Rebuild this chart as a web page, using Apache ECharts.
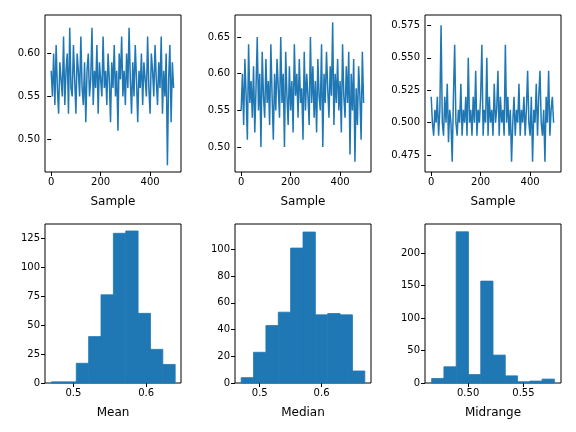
<!DOCTYPE html>
<html>
<head>
<meta charset="utf-8">
<script src="https://cdn.jsdelivr.net/npm/echarts@6/dist/echarts.min.js"></script>
<style>html,body{margin:0;padding:0;background:#fff}#chart{width:576px;height:432px}</style>
</head>
<body>
<div id="chart"></div>
<script>
// sample traces (every 5th sample)
const sampleStep = 5;
const meanTrace = [
  0.58,0.55,0.60,0.54,0.61,0.56,0.53,0.59,0.57,0.55,
  0.62,0.54,0.58,0.60,0.53,0.63,0.56,0.55,0.61,0.57,
  0.53,0.60,0.58,0.55,0.62,0.56,0.54,0.59,0.52,0.58,
  0.60,0.55,0.57,0.63,0.54,0.58,0.56,0.61,0.53,0.59,
  0.57,0.55,0.62,0.56,0.58,0.54,0.60,0.57,0.52,0.59,
  0.56,0.61,0.55,0.58,0.51,0.60,0.57,0.62,0.55,0.58,
  0.54,0.60,0.56,0.63,0.57,0.53,0.59,0.55,0.61,0.57,
  0.52,0.58,0.56,0.60,0.54,0.59,0.57,0.55,0.62,0.56,
  0.53,0.60,0.58,0.55,0.61,0.57,0.54,0.59,0.56,0.62,
  0.53,0.58,0.55,0.60,0.47,0.57,0.61,0.52,0.59,0.56
];
const medianTrace = [
  0.55,0.60,0.53,0.62,0.57,0.51,0.64,0.56,0.59,0.54,
  0.61,0.52,0.58,0.65,0.55,0.60,0.50,0.63,0.57,0.54,
  0.62,0.56,0.59,0.53,0.64,0.57,0.51,0.60,0.55,0.62,
  0.58,0.54,0.65,0.56,0.60,0.50,0.63,0.57,0.53,0.61,
  0.55,0.59,0.52,0.64,0.57,0.60,0.54,0.62,0.56,0.58,
  0.51,0.63,0.55,0.60,0.57,0.53,0.65,0.56,0.61,0.54,
  0.59,0.52,0.62,0.57,0.55,0.64,0.50,0.60,0.56,0.63,
  0.58,0.54,0.61,0.57,0.67,0.53,0.60,0.56,0.62,0.55,
  0.59,0.52,0.64,0.57,0.54,0.61,0.56,0.63,0.49,0.60,
  0.55,0.62,0.48,0.58,0.53,0.61,0.57,0.51,0.63,0.56
];
const midrangeTrace = [
  0.52,0.50,0.49,0.51,0.50,0.52,0.49,0.51,0.575,0.50,
  0.49,0.52,0.50,0.53,0.485,0.51,0.50,0.47,0.52,0.56,
  0.50,0.49,0.51,0.50,0.53,0.49,0.51,0.50,0.52,0.49,
  0.55,0.50,0.51,0.49,0.52,0.50,0.54,0.49,0.51,0.50,
  0.52,0.56,0.49,0.51,0.50,0.55,0.49,0.52,0.50,0.51,
  0.49,0.53,0.50,0.51,0.54,0.49,0.52,0.50,0.51,0.49,
  0.56,0.50,0.52,0.49,0.51,0.47,0.50,0.52,0.49,0.51,
  0.50,0.53,0.49,0.51,0.50,0.52,0.49,0.51,0.54,0.50,
  0.49,0.52,0.47,0.51,0.50,0.53,0.49,0.52,0.54,0.50,
  0.49,0.51,0.47,0.52,0.50,0.54,0.49,0.51,0.52,0.50
];

// histograms: first edge, bin width, counts
const meanBins = {start: 0.470, width: 0.017, counts: [1,1,17,40,76,129,131,60,29,16]};
const medianBins = {start: 0.470, width: 0.020, counts: [4,23,43,53,101,113,51,52,51,9]};
const midrangeBins = {start: 0.467, width: 0.0111, counts: [7,25,233,13,157,43,11,2,3,6]};

const sampleTicks = [0, 200, 400];
const traceYTicks = [[0.50,0.55,0.60],[0.50,0.55,0.60,0.65],[0.475,0.500,0.525,0.550,0.575]];
const histXTicks = [[0.5,0.6],[0.5,0.6],[0.50,0.55]];
const histYTicks = [[0,25,50,75,100,125],[0,20,40,60,80,100],[0,50,100,150,200]];

const blue = '#1f77b4';
const cols = [45, 235, 425];
const font = {color: '#000', fontSize: 10, fontFamily: 'DejaVu Sans'};

const grids = [], xAxes = [], yAxes = [], series = [];

function axisCommon(ticks, fmt) {
  return {
    axisLine: {show: false},
    axisTick: {show: true, customValues: ticks, length: 4, lineStyle: {color: '#000'}},
    axisLabel: Object.assign({customValues: ticks, formatter: fmt, margin: 5}, font),
    splitLine: {show: false}
  };
}

function addGrid(left, top) {
  grids.push({left: left, top: top, width: 136, height: top < 100 ? 157 : 159,
    show: true, borderColor: '#000', borderWidth: 1});
  return grids.length - 1;
}

function fmtDec(d) { return v => v.toFixed(d); }

const traces = [meanTrace, medianTrace, midrangeTrace];
const traceY = [[0.462, 0.645], [0.466, 0.68], [0.462, 0.583]];
const traceDec = [2, 2, 3];
traces.forEach((tr, i) => {
  const g = addGrid(cols[i], 15);
  xAxes.push(Object.assign({type: 'value', gridIndex: g, min: -25, max: 525,
    name: 'Sample', nameLocation: 'middle', nameGap: 24,
    nameTextStyle: {color: '#000', fontSize: 12, fontFamily: 'DejaVu Sans'}},
    axisCommon(sampleTicks, v => String(v))));
  yAxes.push(Object.assign({type: 'value', gridIndex: g, min: traceY[i][0], max: traceY[i][1]},
    axisCommon(traceYTicks[i], fmtDec(traceDec[i]))));
  series.push({type: 'line', xAxisIndex: g, yAxisIndex: g, showSymbol: false,
    lineStyle: {color: blue, width: 1.5},
    data: tr.map((v, k) => [k * sampleStep, v])});
});

const hists = [meanBins, medianBins, midrangeBins];
const histNames = ['Mean', 'Median', 'Midrange'];
const histX = [[0.461, 0.648], [0.46, 0.68], [0.461, 0.584]];
const histY = [[0, 137], [0, 119], [0, 245]];
const histXDec = [1, 1, 2];
hists.forEach((h, i) => {
  const g = addGrid(cols[i], 224);
  xAxes.push(Object.assign({type: 'value', gridIndex: g, min: histX[i][0], max: histX[i][1],
    name: histNames[i], nameLocation: 'middle', nameGap: 24,
    nameTextStyle: {color: '#000', fontSize: 12, fontFamily: 'DejaVu Sans'}},
    axisCommon(histXTicks[i], fmtDec(histXDec[i]))));
  yAxes.push(Object.assign({type: 'value', gridIndex: g, min: histY[i][0], max: histY[i][1]},
    axisCommon(histYTicks[i], v => String(v))));
  series.push({type: 'custom', xAxisIndex: g, yAxisIndex: g,
    data: h.counts.map((c, k) => [h.start + k * h.width, h.start + (k + 1) * h.width, c]),
    renderItem: (params, api) => {
      const p0 = api.coord([api.value(0), api.value(2)]);
      const p1 = api.coord([api.value(1), 0]);
      return {type: 'rect', shape: {x: p0[0], y: p0[1], width: p1[0] - p0[0], height: p1[1] - p0[1]},
        style: {fill: blue, stroke: blue, lineWidth: 0.8}};
    }});
});

const chart = echarts.init(document.getElementById('chart'), null, {renderer: 'canvas'});
chart.setOption({animation: false, grid: grids, xAxis: xAxes, yAxis: yAxes, series: series});
</script>
</body>
</html>
